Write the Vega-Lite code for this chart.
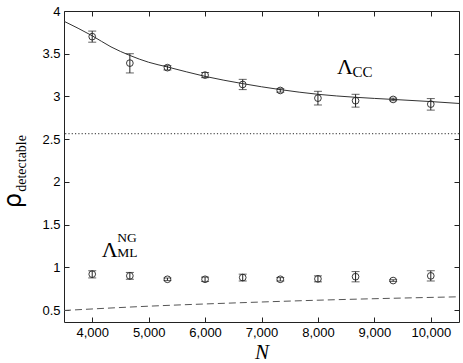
{
  "$schema": "https://vega.github.io/schema/vega-lite/v6.json",
  "width": 395,
  "height": 311,
  "autosize": {"type": "none"},
  "padding": {"left": 64, "top": 11, "right": 4, "bottom": 41},
  "background": "white",
  "config": {
    "view": {"stroke": "#222", "strokeWidth": 1},
    "axis": {"grid": false, "domain": false, "tickColor": "#222", "tickSize": -5, "labelFont": "Liberation Sans", "labelFontSize": 13, "labelColor": "black", "labelPadding": 9}
  },
  "datasets": {
    "pts": [
      {"N": 4000, "rho": 3.70, "lo": 3.635, "hi": 3.765, "series": "CC"},
      {"N": 4667, "rho": 3.39, "lo": 3.275, "hi": 3.50, "series": "CC"},
      {"N": 5333, "rho": 3.337, "lo": 3.31, "hi": 3.36, "series": "CC"},
      {"N": 6000, "rho": 3.25, "lo": 3.22, "hi": 3.28, "series": "CC"},
      {"N": 6667, "rho": 3.14, "lo": 3.08, "hi": 3.20, "series": "CC"},
      {"N": 7333, "rho": 3.07, "lo": 3.05, "hi": 3.09, "series": "CC"},
      {"N": 8000, "rho": 2.98, "lo": 2.90, "hi": 3.06, "series": "CC"},
      {"N": 8667, "rho": 2.95, "lo": 2.875, "hi": 3.025, "series": "CC"},
      {"N": 9333, "rho": 2.965, "lo": 2.95, "hi": 2.98, "series": "CC"},
      {"N": 10000, "rho": 2.91, "lo": 2.84, "hi": 2.975, "series": "CC"},
      {"N": 4000, "rho": 0.92, "lo": 0.876, "hi": 0.96, "series": "ML"},
      {"N": 4667, "rho": 0.90, "lo": 0.86, "hi": 0.94, "series": "ML"},
      {"N": 5333, "rho": 0.86, "lo": 0.845, "hi": 0.875, "series": "ML"},
      {"N": 6000, "rho": 0.86, "lo": 0.835, "hi": 0.885, "series": "ML"},
      {"N": 6667, "rho": 0.88, "lo": 0.84, "hi": 0.92, "series": "ML"},
      {"N": 7333, "rho": 0.86, "lo": 0.84, "hi": 0.88, "series": "ML"},
      {"N": 8000, "rho": 0.865, "lo": 0.83, "hi": 0.90, "series": "ML"},
      {"N": 8667, "rho": 0.89, "lo": 0.83, "hi": 0.95, "series": "ML"},
      {"N": 9333, "rho": 0.845, "lo": 0.835, "hi": 0.855, "series": "ML"},
      {"N": 10000, "rho": 0.90, "lo": 0.84, "hi": 0.96, "series": "ML"}
    ],
    "curve": [
      {"N": 3500, "v": 3.88}, {"N": 4000, "v": 3.71}, {"N": 4333, "v": 3.58},
      {"N": 4667, "v": 3.48}, {"N": 5000, "v": 3.40}, {"N": 5333, "v": 3.345},
      {"N": 6000, "v": 3.235}, {"N": 6667, "v": 3.15}, {"N": 7333, "v": 3.08},
      {"N": 8000, "v": 3.025}, {"N": 8667, "v": 2.99}, {"N": 9333, "v": 2.965},
      {"N": 10000, "v": 2.94}, {"N": 10500, "v": 2.918}
    ],
    "dash": [
      {"N": 3500, "v": 0.495}, {"N": 5000, "v": 0.545}, {"N": 6600, "v": 0.585},
      {"N": 8000, "v": 0.615}, {"N": 10500, "v": 0.655}
    ]
  },
  "layer": [
    {
      "data": {"name": "curve"},
      "mark": {"type": "line", "color": "#333", "strokeWidth": 1, "interpolate": "monotone", "clip": true},
      "encoding": {
        "x": {"field": "N", "type": "quantitative", "scale": {"domain": [3500, 10500], "nice": false, "zero": false},
          "axis": {"orient": "bottom", "values": [4000, 5000, 6000, 7000, 8000, 9000, 10000], "format": ",d", "title": "N", "titleFont": "Liberation Serif", "titleFontStyle": "italic", "titleFontWeight": "normal", "titleFontSize": 21, "titleColor": "black", "titlePadding": 2}},
        "y": {"field": "v", "type": "quantitative", "scale": {"domain": [0.36, 4], "nice": false, "zero": false},
          "axis": {"orient": "left", "values": [0.5, 1, 1.5, 2, 2.5, 3, 3.5, 4], "format": "~g", "title": null}}
      }
    },
    {
      "data": {"values": [{"level": 2.565}]},
      "mark": {"type": "rule", "color": "#555", "strokeWidth": 1.2, "strokeDash": [1.2, 2.1]},
      "encoding": {
        "y": {"field": "level", "type": "quantitative", "axis": {"orient": "right", "values": [0.5, 1, 1.5, 2, 2.5, 3, 3.5, 4], "labels": false, "title": null}}
      }
    },
    {
      "data": {"name": "dash"},
      "mark": {"type": "line", "color": "#555", "strokeWidth": 1, "strokeDash": [7, 4], "interpolate": "monotone"},
      "encoding": {
        "x": {"field": "N", "type": "quantitative", "axis": {"orient": "top", "values": [4000, 5000, 6000, 7000, 8000, 9000, 10000], "labels": false, "title": null}},
        "y": {"field": "v", "type": "quantitative", "axis": null}
      }
    },
    {
      "data": {"name": "pts"},
      "mark": {"type": "rule", "color": "#222", "strokeWidth": 1},
      "encoding": {
        "x": {"field": "N", "type": "quantitative", "axis": null},
        "y": {"field": "lo", "type": "quantitative", "axis": null},
        "y2": {"field": "hi"}
      }
    },
    {
      "data": {"name": "pts"},
      "mark": {"type": "tick", "orient": "horizontal", "color": "#222", "size": 8, "thickness": 1},
      "encoding": {
        "x": {"field": "N", "type": "quantitative", "axis": null},
        "y": {"field": "lo", "type": "quantitative", "axis": null}
      }
    },
    {
      "data": {"name": "pts"},
      "mark": {"type": "tick", "orient": "horizontal", "color": "#222", "size": 8, "thickness": 1},
      "encoding": {
        "x": {"field": "N", "type": "quantitative", "axis": null},
        "y": {"field": "hi", "type": "quantitative", "axis": null}
      }
    },
    {
      "data": {"name": "pts"},
      "mark": {"type": "point", "shape": "circle", "filled": false, "stroke": "#222", "strokeWidth": 0.9, "size": 45, "opacity": 1},
      "encoding": {
        "x": {"field": "N", "type": "quantitative", "axis": null},
        "y": {"field": "rho", "type": "quantitative", "axis": null}
      }
    },
    {
      "data": {"values": [{}]},
      "layer": [
        {"mark": {"type": "text", "text": "Λ", "font": "Liberation Serif", "fontSize": 22, "align": "left", "baseline": "alphabetic", "color": "black"},
         "encoding": {"x": {"datum": 8340, "type": "quantitative", "axis": null}, "y": {"datum": 3.259, "type": "quantitative", "axis": null}}},
        {"mark": {"type": "text", "text": "CC", "font": "Liberation Serif", "fontSize": 15, "align": "left", "baseline": "alphabetic", "color": "black"},
         "encoding": {"x": {"datum": 8614, "type": "quantitative", "axis": null}, "y": {"datum": 3.224, "type": "quantitative", "axis": null}}},
        {"mark": {"type": "text", "text": "Λ", "font": "Liberation Serif", "fontSize": 22, "align": "left", "baseline": "alphabetic", "color": "black"},
         "encoding": {"x": {"datum": 4168, "type": "quantitative", "axis": null}, "y": {"datum": 1.126, "type": "quantitative", "axis": null}}},
        {"mark": {"type": "text", "text": "NG", "font": "Liberation Serif", "fontSize": 13.5, "align": "left", "baseline": "alphabetic", "color": "black"},
         "encoding": {"x": {"datum": 4442, "type": "quantitative", "axis": null}, "y": {"datum": 1.30, "type": "quantitative", "axis": null}}},
        {"mark": {"type": "text", "text": "ML", "font": "Liberation Serif", "fontSize": 13.5, "align": "left", "baseline": "alphabetic", "color": "black"},
         "encoding": {"x": {"datum": 4442, "type": "quantitative", "axis": null}, "y": {"datum": 1.115, "type": "quantitative", "axis": null}}},
        {"mark": {"type": "text", "text": "ρ", "font": "DejaVu Sans", "fontSize": 24, "align": "center", "baseline": "alphabetic", "angle": 270, "color": "black", "clip": false},
         "encoding": {"x": {"datum": 2730, "type": "quantitative", "axis": null}, "y": {"datum": 1.779, "type": "quantitative", "axis": null}}},
        {"mark": {"type": "text", "text": "detectable", "font": "Liberation Serif", "fontSize": 14, "align": "left", "baseline": "alphabetic", "angle": 270, "color": "black", "clip": false},
         "encoding": {"x": {"datum": 2822, "type": "quantitative", "axis": null}, "y": {"datum": 1.884, "type": "quantitative", "axis": null}}}
      ]
    }
  ],
  "resolve": {"axis": {"x": "independent", "y": "independent"}}
}
